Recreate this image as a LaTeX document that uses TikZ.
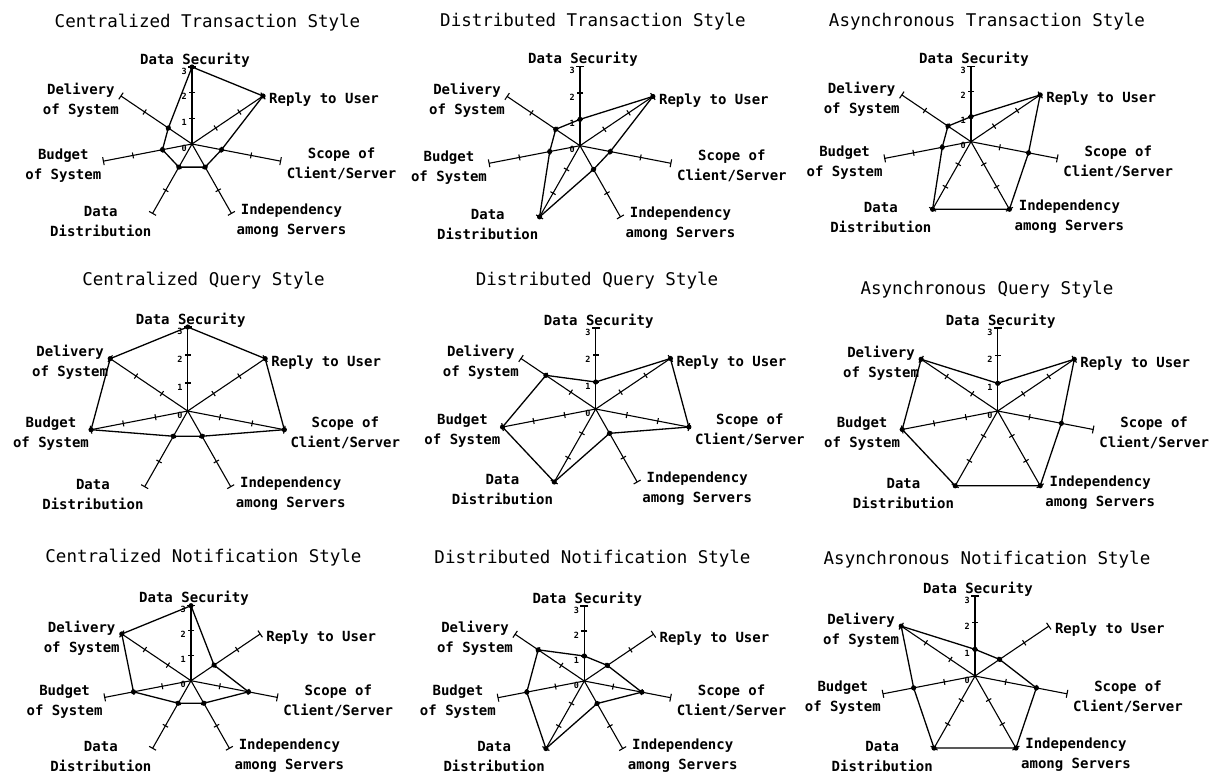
\documentclass[tikz,border=0pt]{standalone}
\usepackage{fontspec}
\newfontfamily\monofont{DejaVu Sans Mono}
\tikzset{
 axisline/.style={line width=1.1pt, black},
 poly/.style={line width=1.3pt, black, line join=round},
 lab/.style={font=\monofont\bfseries\fontsize{14}{20}\selectfont, inner sep=0pt, align=center},
 num/.style={font=\monofont\bfseries\fontsize{8.5}{9}\selectfont, inner sep=0pt},
 ttl/.style={font=\monofont\fontsize{17.5}{20}\selectfont, inner sep=0pt, anchor=base},
 dot/.style={fill=black},
}
\newcommand\radar[8]{%
 \begin{scope}[shift={(#2,#3)}]
 \coordinate (#1c) at (0,0);
 \foreach \kk in {0,...,6}{%
  \pgfmathsetmacro\ang{90-\kk*360/7}%
  \pgfmathsetmacro\ddx{1.18*cos(\ang)}%
  \pgfmathsetmacro\ddy{-sin(\ang)}%
  \pgfmathsetmacro\lenn{sqrt(\ddx*\ddx+\ddy*\ddy)}%
  \pgfmathsetmacro\ppx{-\ddy/\lenn}%
  \pgfmathsetmacro\ppy{\ddx/\lenn}%
  \coordinate (#1e\kk) at ({#4*\ddx},{#4*\ddy});
  \draw[axisline] (#1c) -- (#1e\kk);
  \foreach \tk in {1,2}{\draw[axisline] ({\tk*#4/3*\ddx+3*\ppx},{\tk*#4/3*\ddy+3*\ppy}) -- ({\tk*#4/3*\ddx-3*\ppx},{\tk*#4/3*\ddy-3*\ppy});}
  \draw[axisline] ({#4*\ddx+4*\ppx},{#4*\ddy+4*\ppy}) -- ({#4*\ddx-4*\ppx},{#4*\ddy-4*\ppy});
 }
 \foreach \val [count=\kk from 0] in {#5}{%
  \pgfmathsetmacro\ang{90-\kk*360/7}%
  \coordinate (#1p\kk) at ({1.18*\val*#4/3*cos(\ang)},{-\val*#4/3*sin(\ang)});
 }
 \draw[poly] (#1p0) -- (#1p1) -- (#1p2) -- (#1p3) -- (#1p4) -- (#1p5) -- (#1p6) -- cycle;
 \foreach \kk in {0,...,6}{\fill[dot] (#1p\kk) circle (2.6pt);}
 \foreach \val in {0,...,3}{\node[num,anchor=east] at (-5,{-\val*#4/3+4}) {\val};}
 \node[lab,anchor=base,xshift=3pt,yshift=3pt] at (#1e0) {Data Security};
 \node[lab,anchor=west,xshift=6pt,yshift=-4pt] at (#1e1) {Reply to User};
 \node[lab,anchor=west,xshift=6pt,yshift=-3pt] at (#1e2) {Scope of\\Client/Server};
 \node[lab,anchor=west,xshift=5pt,yshift=-7pt] at (#1e3) {Independency\\among Servers};
 \node[lab,anchor=east,xshift=-1pt,yshift=-8pt] at (#1e4) {Data\\Distribution};
 \node[lab,anchor=east,xshift=-2pt,yshift=-4pt] at (#1e5) {Budget\\of System};
 \node[lab,anchor=east,xshift=-2pt,yshift=-4pt] at (#1e6) {Delivery\\of System};
 \end{scope}
 \node[ttl] (#1t) at (#7,#8) {#6};
}
\begin{document}
\begin{tikzpicture}[x=1pt,y=-1pt]
\fill[white] (0,0) rectangle (1217,774);
\useasboundingbox (0,0) rectangle (1217,774);
\radar{a}{192}{144}{77}{3,3,1,1,1,1,1}{Centralized Transaction Style}{207.5}{27}
\radar{b}{580}{145.7}{79}{1,3,1,1,3,1,1}{Distributed Transaction Style}{593}{26}
\radar{c}{971}{141.7}{75}{1,3,2,3,3,1,1}{Asynchronous Transaction Style}{987}{26}
\radar{d}{187.7}{411}{84}{3,3,3,1,1,3,3}{Centralized Query Style}{203.5}{285}
\radar{e}{595.7}{409}{81}{1,3,3,1,3,3,2}{Distributed Query Style}{597}{285.5}
\radar{f}{997.7}{411}{83}{1,3,2,3,3,3,3}{Asynchronous Query Style}{987}{294}
\radar{g}{191}{680.7}{75}{3,1,2,1,1,2,3}{Centralized Notification Style}{203.5}{562}
\radar{h}{584.3}{681}{75}{1,1,2,1,3,2,2}{Distributed Notification Style}{592.5}{563}
\radar{i}{975}{676}{80}{1,1,2,3,3,2,3}{Asynchronous Notification Style}{987}{564}
\end{tikzpicture}
\end{document}
